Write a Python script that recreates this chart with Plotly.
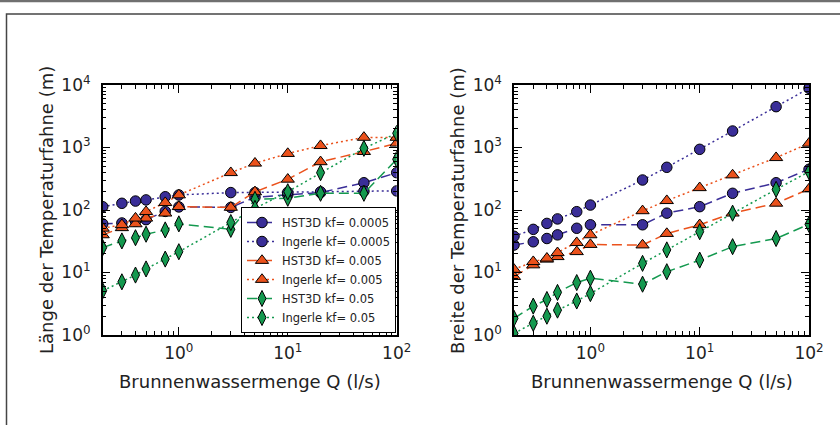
import numpy as np
import plotly.graph_objects as go

# Brunnenwassermenge Q (l/s)
q = [0.2, 0.3, 0.4, 0.5, 0.75, 1.0, 3, 5, 10, 20, 50, 100]

# Länge der Temperaturfahne (m)
laenge_hst3d_0005 = [60, 62, 66, 70, 95, 112, 110, 160, 175, 190, 273, 395]
laenge_ingerle_0005 = [113, 128, 139, 145, 163, 174, 190, 190, 192, 195, 200, 202]
laenge_hst3d_005 = [40, 52, 60, 74, 89, 113, 110, 195, 310, 590, 860, 1170]
laenge_ingerle_005 = [51, 58, 74, 94, 131, 174, 395, 560, 800, 1070, 1450, 1450]
laenge_hst3d_05 = [25, 32, 36, 41, 48, 60, 49, 148, 154, 185, 185, 648]
laenge_ingerle_05 = [5.1, 7.1, 9.1, 11.4, 16.4, 21.5, 63, 106, 196, 395, 970, 1690]

# Breite der Temperaturfahne (m)
breite_hst3d_0005 = [27.5, 31, 35, 40, 51, 58, 58, 89, 113, 185, 273, 448]
breite_ingerle_0005 = [38, 49, 61, 72, 94, 120, 302, 482, 935, 1836, 4500, 8850]
breite_hst3d_005 = [8.6, 13.2, 16.3, 17.9, 21.5, 28, 27.5, 42, 58, 89, 128, 217]
breite_ingerle_005 = [11.2, 14.9, 16.9, 20.7, 30, 40, 97, 141, 227, 363, 687, 1167]
breite_hst3d_05 = [1.85, 2.9, 3.7, 4.8, 6.9, 8.1, 6.5, 10.3, 15.8, 25.9, 35, 59]
breite_ingerle_05 = [1.06, 1.54, 2.0, 2.5, 3.5, 4.6, 14, 23, 45, 89, 214, 410]

legend_names = ["HST3D kf= 0.0005", "Ingerle kf= 0.0005",
                "HST3D kf= 0.005", "Ingerle kf= 0.005",
                "HST3D kf= 0.05", "Ingerle kf= 0.05"]

x_tick_vals = [1, 10, 100]
x_tick_text = ["10<sup>0</sup>", "10<sup>1</sup>", "10<sup>2</sup>"]
y_tick_vals = [1, 10, 100, 1000, 10000]
y_tick_text = ["10<sup>0</sup>", "10<sup>1</sup>", "10<sup>2</sup>",
               "10<sup>3</sup>", "10<sup>4</sup>"]

BLUE = "#3a2e98"
ORANGE = "#eb521c"
GREEN = "#14994f"
DASHED = "10px,5px"
DOTTED = "2px,3px"
FONT = "DejaVu Sans"

styles = [
    (BLUE, "circle", 10.5, DASHED),
    (BLUE, "circle", 10.5, DOTTED),
    (ORANGE, "triangle-up", 11.5, DASHED),
    (ORANGE, "triangle-up", 11.5, DOTTED),
    (GREEN, "diamond-tall", 11.5, DASHED),
    (GREEN, "diamond-tall", 11.5, DOTTED),
]

left_series = [laenge_hst3d_0005, laenge_ingerle_0005, laenge_hst3d_005,
               laenge_ingerle_005, laenge_hst3d_05, laenge_ingerle_05]
right_series = [breite_hst3d_0005, breite_ingerle_0005, breite_hst3d_005,
                breite_ingerle_005, breite_hst3d_05, breite_ingerle_05]

fig = go.Figure()

for panel, series in (("", left_series), ("2", right_series)):
    for name, vals, (col, sym, size, dash) in zip(legend_names, series, styles):
        fig.add_trace(go.Scatter(
            x=q, y=vals, name=name, mode="lines+markers",
            xaxis="x" + panel, yaxis="y" + panel,
            line=dict(color=col, width=1.5, dash=dash),
            marker=dict(symbol=sym, size=size, color=col,
                        line=dict(color="black", width=1)),
            showlegend=(panel == ""),
        ))

minor_x = [v * m for m in (0.1, 1, 10) for v in range(2, 10) if 0.2 <= v * m < 100]
minor_y = [v * m for m in (1, 10, 100, 1000) for v in range(2, 10)]

def x_axis(domain, anchor):
    return dict(
        type="log", domain=domain, anchor=anchor, automargin=False,
        range=[np.log10(0.2), 2],
        tickvals=x_tick_vals, ticktext=x_tick_text,
        ticks="inside", ticklen=8, tickwidth=1, tickcolor="black",
        minor=dict(tickvals=minor_x, ticks="inside", ticklen=4,
                   tickwidth=1, tickcolor="black", showgrid=False),
        showline=True, linecolor="black", linewidth=1.5, mirror="allticks",
        showgrid=False, zeroline=False,
        tickfont=dict(family=FONT, size=17, color="#222"),
        ticklabelstandoff=2,
    )

def y_axis(domain, anchor):
    return dict(
        type="log", domain=domain, anchor=anchor, automargin=False,
        range=[0, 4],
        tickvals=y_tick_vals, ticktext=y_tick_text,
        ticks="inside", ticklen=8, tickwidth=1, tickcolor="black",
        minor=dict(tickvals=minor_y, ticks="inside", ticklen=4,
                   tickwidth=1, tickcolor="black", showgrid=False),
        showline=True, linecolor="black", linewidth=1.5, mirror="allticks",
        showgrid=False, zeroline=False,
        tickfont=dict(family=FONT, size=17, color="#222"),
        ticklabelstandoff=7,
    )

W, H = 840, 425
ydom = [(H - 335) / H, (H - 85) / H]

title_font = dict(family=FONT, size=18, color="#222")
annotations = [
    dict(text="Brunnenwassermenge Q (l/s)", x=(102.7 + 396.7) / 2 / W,
         y=(H - 381) / H, xref="paper", yref="paper", showarrow=False,
         font=title_font, xanchor="center", yanchor="middle"),
    dict(text="Brunnenwassermenge Q (l/s)", x=(514 + 809) / 2 / W,
         y=(H - 381) / H, xref="paper", yref="paper", showarrow=False,
         font=title_font, xanchor="center", yanchor="middle"),
    dict(text="Länge der Temperaturfahne (m)", x=46 / W, y=(H - 210) / H,
         xref="paper", yref="paper", showarrow=False, textangle=-90,
         font=title_font, xanchor="center", yanchor="middle"),
    dict(text="Breite der Temperaturfahne (m)", x=457 / W, y=(H - 210) / H,
         xref="paper", yref="paper", showarrow=False, textangle=-90,
         font=title_font, xanchor="center", yanchor="middle"),
]

shapes = [
    dict(type="line", xref="paper", yref="paper", x0=0, x1=1,
         y0=1 - 1 / H, y1=1 - 1 / H, line=dict(color="#707070", width=2.5)),
    dict(type="rect", xref="paper", yref="paper", x0=6.5 / W, x1=1.05,
         y0=-0.05, y1=(H - 14) / H, line=dict(color="#454545", width=1.5)),
]

fig.update_layout(
    width=W, height=H, autosize=False,
    margin=dict(l=0, r=0, t=0, b=0, pad=0, autoexpand=False),
    paper_bgcolor="white", plot_bgcolor="white",
    xaxis=x_axis([102.7 / W, 396.7 / W], "y"),
    yaxis=y_axis(ydom, "x"),
    xaxis2=x_axis([514 / W, 809 / W], "y2"),
    yaxis2=y_axis(ydom, "x2"),
    annotations=annotations,
    shapes=shapes,
    legend=dict(
        x=241 / W, y=(H - 207) / H, xanchor="left", yanchor="top",
        bgcolor="white", bordercolor="black", borderwidth=1,
        font=dict(family=FONT, size=11.5, color="#222"),
        itemwidth=30, tracegroupgap=0,
    ),
    font=dict(family=FONT),
)

fig.write_html(
    "out.html",
    config={"responsive": False, "displayModeBar": False},
    post_script="document.body.style.margin='0';document.body.style.overflow='hidden';",
)
